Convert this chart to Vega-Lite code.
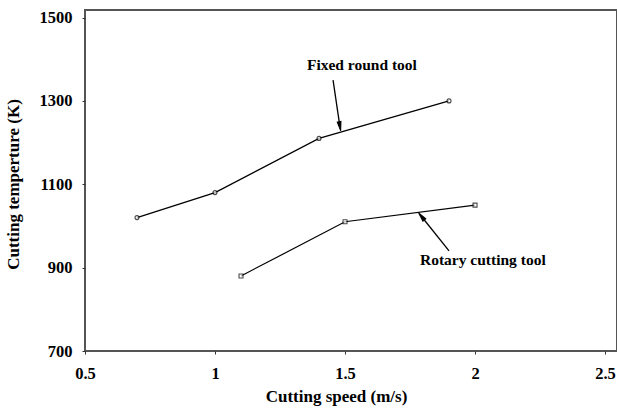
{
  "$schema": "https://vega.github.io/schema/vega-lite/v6.json",
  "autosize": {"type": "none"},
  "width": 532,
  "height": 341,
  "padding": {"left": 85, "top": 10, "right": 0, "bottom": 62},
  "background": "white",
  "config": {
    "view": {"stroke": "#555555", "strokeWidth": 2},
    "font": "Liberation Serif"
  },
  "datasets": {
    "series": [
      {"tool": "Fixed round tool", "speed": 0.7, "temp": 1020},
      {"tool": "Fixed round tool", "speed": 1.0, "temp": 1080},
      {"tool": "Fixed round tool", "speed": 1.4, "temp": 1210},
      {"tool": "Fixed round tool", "speed": 1.9, "temp": 1300},
      {"tool": "Rotary cutting tool", "speed": 1.1, "temp": 880},
      {"tool": "Rotary cutting tool", "speed": 1.5, "temp": 1010},
      {"tool": "Rotary cutting tool", "speed": 2.0, "temp": 1050}
    ],
    "labels": [
      {"label": "Fixed round tool", "speed": 1.565, "temp": 1386},
      {"label": "Rotary cutting tool", "speed": 2.03, "temp": 918}
    ],
    "arrows": [
      {"speed": 1.454, "temp": 1350, "speed2": 1.48, "temp2": 1240, "angle": 170},
      {"speed": 1.9, "temp": 940, "speed2": 1.795, "temp2": 1022, "angle": 321}
    ]
  },
  "layer": [
    {
      "data": {"name": "series"},
      "mark": {"type": "line", "color": "black", "strokeWidth": 1.2},
      "encoding": {
        "x": {"field": "speed", "type": "quantitative",
              "scale": {"domain": [0.5, 2.546], "nice": false, "zero": false},
              "axis": {"values": [0.5, 1, 1.5, 2, 2.5], "format": "~g", "title": "Cutting speed (m/s)",
                       "grid": false, "domain": false, "tickColor": "#333", "tickSize": 3,
                       "labelFont": "Liberation Serif", "labelFontWeight": "bold", "labelFontSize": 16.5,
                       "labelColor": "black", "labelPadding": 11, "labelFlush": false,
                       "titleFont": "Liberation Serif", "titleFontWeight": "bold", "titleFontSize": 17,
                       "titleColor": "black", "titleX": 251, "titleY": 37, "titleAlign": "center"}},
        "y": {"field": "temp", "type": "quantitative",
              "scale": {"domain": [700, 1518], "nice": false, "zero": false},
              "axis": {"values": [700, 900, 1100, 1300, 1500], "format": "d", "title": "Cutting temperture (K)",
                       "grid": false, "domain": false, "tickColor": "#333", "tickSize": 3,
                       "labelFont": "Liberation Serif", "labelFontWeight": "bold", "labelFontSize": 16.5,
                       "labelColor": "black", "labelPadding": 10, "labelFlush": false,
                       "titleFont": "Liberation Serif", "titleFontWeight": "bold", "titleFontSize": 17,
                       "titleColor": "black", "titleX": -63, "titleY": 174, "titleAlign": "center"}},
        "detail": {"field": "tool"}
      }
    },
    {
      "data": {"name": "series"},
      "mark": {"type": "point", "filled": true, "fill": "white", "stroke": "black", "strokeWidth": 1.1, "size": 16},
      "encoding": {
        "x": {"field": "speed", "type": "quantitative"},
        "y": {"field": "temp", "type": "quantitative"},
        "shape": {"field": "tool", "type": "nominal",
                  "scale": {"domain": ["Fixed round tool", "Rotary cutting tool"], "range": ["circle", "square"]},
                  "legend": null}
      }
    },
    {
      "data": {"name": "arrows"},
      "mark": {"type": "rule", "color": "black", "strokeWidth": 1.3},
      "encoding": {
        "x": {"field": "speed", "type": "quantitative"},
        "y": {"field": "temp", "type": "quantitative"},
        "x2": {"field": "speed2"},
        "y2": {"field": "temp2"}
      }
    },
    {
      "data": {"name": "arrows"},
      "mark": {"type": "point", "shape": "M-0.45,1L0,-1.2L0.45,1Z", "filled": true, "fill": "black", "stroke": "black", "strokeWidth": 1, "size": 70, "opacity": 1},
      "encoding": {
        "x": {"field": "speed2", "type": "quantitative"},
        "y": {"field": "temp2", "type": "quantitative"},
        "angle": {"field": "angle", "type": "quantitative", "scale": null}
      }
    },
    {
      "data": {"name": "labels"},
      "mark": {"type": "text", "font": "Liberation Serif", "fontWeight": "bold", "fontSize": 15.5, "color": "black", "align": "center", "baseline": "middle"},
      "encoding": {
        "x": {"field": "speed", "type": "quantitative"},
        "y": {"field": "temp", "type": "quantitative"},
        "text": {"field": "label"}
      }
    }
  ]
}
